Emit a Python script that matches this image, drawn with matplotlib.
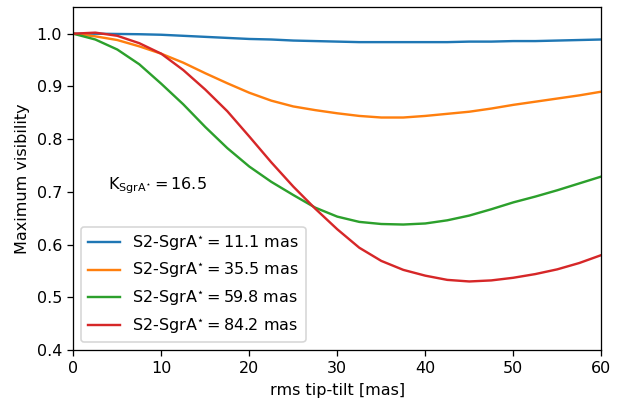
import matplotlib
matplotlib.use("Agg")
import matplotlib.pyplot as plt

x = [0, 2.5, 5, 7.5, 10, 12.5, 15, 17.5, 20, 22.5, 25, 27.5, 30, 32.5, 35, 37.5,
     40, 42.5, 45, 47.5, 50, 52.5, 55, 57.5, 60]
blue = [1.0, 1.0, 0.9995, 0.999, 0.998, 0.996, 0.994, 0.992, 0.990, 0.989, 0.987, 0.986,
        0.985, 0.984, 0.984, 0.984, 0.984, 0.984, 0.985, 0.985, 0.986, 0.986, 0.987, 0.988, 0.989]
orange = [1.0, 0.995, 0.988, 0.976, 0.962, 0.945, 0.925, 0.906, 0.888, 0.873, 0.862, 0.855,
          0.849, 0.844, 0.841, 0.841, 0.844, 0.848, 0.852, 0.858, 0.865, 0.871, 0.877, 0.883, 0.890]
green = [1.0, 0.989, 0.970, 0.942, 0.905, 0.866, 0.823, 0.783, 0.748, 0.719, 0.694, 0.670,
         0.653, 0.643, 0.639, 0.638, 0.640, 0.646, 0.655, 0.667, 0.680, 0.691, 0.703, 0.716, 0.729]
red = [1.0, 1.002, 0.996, 0.982, 0.962, 0.931, 0.894, 0.853, 0.805, 0.756, 0.710, 0.668,
       0.629, 0.594, 0.569, 0.552, 0.541, 0.533, 0.530, 0.532, 0.537, 0.544, 0.553, 0.565, 0.580]
separations = ["11.1", "35.5", "59.8", "84.2"]

S = 1.15
fig = plt.figure(figsize=(6.35 / S, 4.01 / S), dpi=100 * S)
ax = fig.add_axes([0.1154, 0.1272, 0.8315, 0.8545])
for ys, sep in zip([blue, orange, green, red], separations):
    ax.plot(x, ys, lw=1.5, label=r'$\mathrm{S2\text{-}SgrA^{\star}} = %s$ mas' % sep)
ax.set_xlim(0, 60)
ax.set_ylim(0.4, 1.05)
ax.set_xlabel('rms tip-tilt [mas]')
ax.set_ylabel('Maximum visibility')
ax.text(3.95, 0.711, r'$\mathrm{K_{SgrA^{\star}}} = 16.5$', fontsize=10, va='center')
ax.legend(loc='lower left')
fig.savefig('out.png', dpi=100 * S)
